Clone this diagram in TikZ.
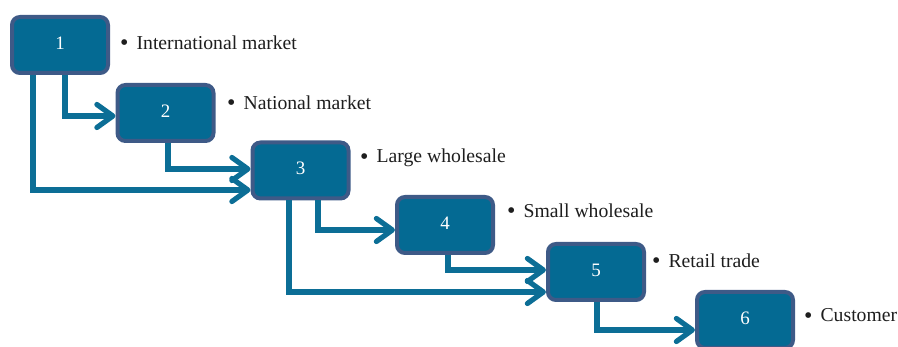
\documentclass[tikz,border=0pt]{standalone}
\usepackage{fontspec}
\setmainfont{Liberation Serif}
\usetikzlibrary{arrows.meta}
\definecolor{boxfill}{RGB}{4,106,147}
\definecolor{boxline}{RGB}{62,90,135}
\definecolor{arrowc}{RGB}{12,110,150}
\definecolor{txt}{RGB}{30,30,30}
\tikzset{
  stagebox/.style={draw=boxline, fill=boxfill, line width=4pt, rounded corners=8pt,
    minimum width=96pt, minimum height=56pt, inner sep=0pt, text=white,
    font=\fontsize{19}{22}\selectfont},
  lab/.style={anchor=west, inner sep=0pt, text=txt, font=\fontsize{19.7}{23}\selectfont},
  arr/.style={draw=arrowc, line width=5.2pt,
    -{Straight Barb[length=16pt,width=23pt,line cap=round,line join=round]}},
}
\newcommand{\bul}{\raisebox{-1.5pt}{\fontsize{24}{24}\selectfont\textbullet}}
\begin{document}
\begin{tikzpicture}[x=1pt,y=-1pt]
\useasboundingbox (0,0) rectangle (898,347);
\node[stagebox] (b1) at (60,45) {\raisebox{4pt}{1}};
\node[stagebox] (b2) at (165.5,113) {\raisebox{4pt}{2}};
\node[stagebox] (b3) at (300.5,170.5) {\raisebox{4pt}{3}};
\node[stagebox] (b4) at (445,225) {\raisebox{4pt}{4}};
\node[stagebox] (b5) at (596,272) {\raisebox{4pt}{5}};
\node[stagebox] (b6) at (745,320) {\raisebox{4pt}{6}};

\node[lab] (l1) at (120,43) {\bul\hspace{8pt}International market};
\node[lab] (l2) at (227,103) {\bul\hspace{8pt}National market};
\node[lab] (l3) at (360,158) {\bul\hspace{8pt}Large wholesale};
\node[lab] (l4) at (507,211) {\bul\hspace{8pt}Small wholesale};
\node[lab] (l5) at (652,261) {\bul\hspace{8pt}Retail trade};
\node[lab] (l6) at (804,316) {\bul\hspace{8pt}Customer};

\draw[arr] ([xshift=5pt]b1.south) |- ([yshift=-3pt]b2.west);
\draw[arr] ([xshift=-27pt]b1.south) |- ([yshift=-19.5pt]b3.west);
\draw[arr] ([xshift=2.5pt]b2.south) |- ([yshift=1.5pt]b3.west);
\draw[arr] ([xshift=17.5pt]b3.south) |- ([yshift=-5pt]b4.west);
\draw[arr] ([xshift=-11.5pt]b3.south) |- ([yshift=-20pt]b5.west);
\draw[arr] ([xshift=3pt]b4.south) |- ([yshift=2pt]b5.west);
\draw[arr] ([xshift=1pt]b5.south) |- ([yshift=-10pt]b6.west);
\end{tikzpicture}
\end{document}
